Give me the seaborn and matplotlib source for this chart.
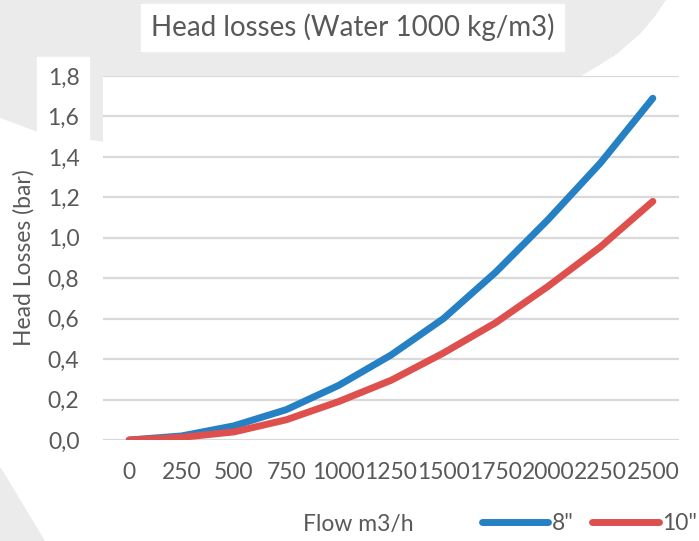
import numpy as np
import pandas as pd
import matplotlib.pyplot as plt
import matplotlib.patches as mpatches
import seaborn as sns

# data
flow = ["0", "250", "500", "750", "1000", "1250", "1500", "1750", "2000", "2250", "2500"]
loss_8 = [0.0, 0.02, 0.07, 0.15, 0.27, 0.42, 0.60, 0.83, 1.09, 1.37, 1.69]
loss_10 = [0.0, 0.013, 0.04, 0.10, 0.19, 0.295, 0.43, 0.58, 0.76, 0.955, 1.18]
series = ['8"', '10"']
colors = ["#2680c4", "#de504e"]

df = pd.concat([
    pd.DataFrame({"flow": flow, "loss": loss_8, "pipe": series[0]}),
    pd.DataFrame({"flow": flow, "loss": loss_10, "pipe": series[1]}),
])

sns.set_theme(style="white")
plt.rcParams["font.family"] = ["Lato", "DejaVu Sans"]
txt = "#595959"

W, H = 699, 541
fig = plt.figure(figsize=(W / 100, H / 100), dpi=100)

def px(x, y):
    return (x / W, 1 - y / H)

# faint watermark behind the chart
grey = [(0, 0), (665, 0), (655, 15), (640, 33), (617, 53), (595, 67), (583, 74),
        (540, 110), (103, 141), (37, 131), (0, 117)]
fig.patches.append(mpatches.Polygon([px(*p) for p in grey], closed=True,
                                    transform=fig.transFigure, color="#ebebeb", zorder=-3))
fig.patches.append(mpatches.Polygon([px(0, 468), px(0, 541), px(44, 541)], closed=True,
                                    transform=fig.transFigure, color="#ebebeb", zorder=-3))
# white boxes of the chart elements
for x0, y0, x1, y1 in [(141, 4, 564, 51), (37, 57, 89, 200)]:
    fig.patches.append(mpatches.Rectangle(px(x0, y1), (x1 - x0) / W, (y1 - y0) / H,
                                          transform=fig.transFigure, color="white", zorder=-2))

ax = fig.add_axes([103 / W, 101 / H, 576 / W, 364 / H])
ax.set_facecolor("white")

sns.lineplot(data=df, x="flow", y="loss", hue="pipe", palette=colors,
             linewidth=5, ax=ax, sort=False)
for line in ax.get_lines():
    line.set_solid_capstyle("round")
    line.set_solid_joinstyle("round")

ax.set_xlim(-0.5, len(flow) - 0.5)
ax.set_ylim(0, 1.8)
yt = np.arange(0, 1.81, 0.2)
ax.set_yticks(yt)
ax.set_yticklabels([f"{v:.1f}".replace(".", ",") for v in yt])
ax.grid(axis="y", color="#d9d9d9", linewidth=1.6)
ax.grid(axis="x", visible=False)
ax.set_axisbelow(True)
for s in ax.spines.values():
    s.set_visible(False)
ax.tick_params(axis="both", length=0, labelsize=16.5, colors=txt)
ax.tick_params(axis="y", pad=17)
ax.tick_params(axis="x", pad=16)
ax.set_xlabel("")
ax.set_ylabel("Head Losses (bar)", fontsize=16.5, color=txt)
ax.yaxis.set_label_coords(-68 / 576, 0.5)

fig.text(353 / W, 1 - 27 / H, "Head losses (Water 1000 kg/m3)", ha="center", va="center",
         fontsize=20, color=txt)
fig.text(358 / W, 1 - 524 / H, "Flow m3/h", ha="center", va="center",
         fontsize=16.5, color=txt)

sns.move_legend(ax, loc="center left", bbox_to_anchor=(482 / W, 1 - 524 / H),
                bbox_transform=fig.transFigure, ncol=2, frameon=False, title=None,
                fontsize=16.5, handlelength=2.9, handletextpad=0.15, columnspacing=0.8,
                borderpad=0, borderaxespad=0)
leg = ax.get_legend()
for h in leg.get_lines():
    h.set_linewidth(5)
    h.set_solid_capstyle("round")
for t in leg.get_texts():
    t.set_color(txt)

fig.savefig("out.png", dpi=100)
